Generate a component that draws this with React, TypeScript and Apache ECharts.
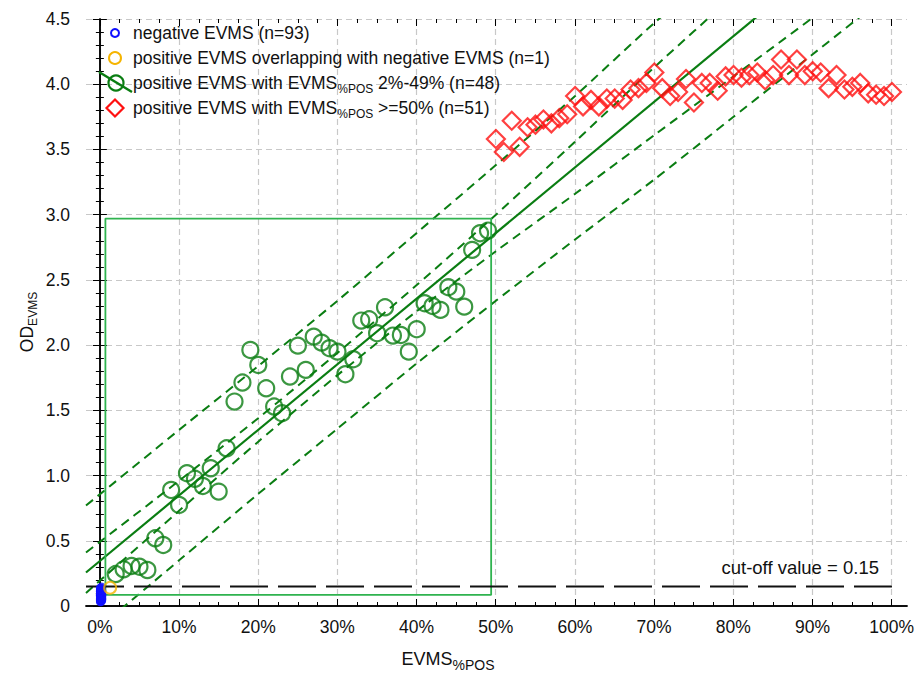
import React, { useEffect, useRef } from 'react';
import * as echarts from 'echarts';

// ---------- data ----------
const greenX = [2, 3, 4, 5, 6, 7, 8, 9, 10, 11, 12, 13, 14, 15, 16, 17, 18, 19, 20, 21, 22, 23, 24, 25, 26, 27, 28, 29, 30, 31, 32, 33, 34, 35, 36, 37, 38, 39, 40, 41, 42, 43, 44, 45, 46, 47, 48, 49];
const greenY = [0.245, 0.281, 0.307, 0.301, 0.276, 0.519, 0.468, 0.89, 0.775, 1.018, 0.975, 0.92, 1.056, 0.877, 1.209, 1.567, 1.713, 1.963, 1.848, 1.669, 1.529, 1.478, 1.759, 1.996, 1.81, 2.065, 2.019, 1.976, 1.95, 1.777, 1.892, 2.188, 2.198, 2.091, 2.29, 2.073, 2.078, 1.95, 2.122, 2.321, 2.3, 2.27, 2.444, 2.41, 2.295, 2.73, 2.858, 2.878];

const redX = [50, 51, 52, 53, 54, 55, 56, 57, 58, 59, 60, 61, 62, 63, 64, 65, 66, 67, 68, 69, 70, 71, 72, 73, 74, 75, 76, 77, 78, 79, 80, 81, 82, 83, 84, 85, 86, 87, 88, 89, 90, 91, 92, 93, 94, 95, 96, 97, 98, 99, 100];
const redY = [3.58, 3.48, 3.72, 3.52, 3.67, 3.69, 3.73, 3.70, 3.74, 3.77, 3.91, 3.83, 3.88, 3.83, 3.89, 3.89, 3.88, 3.96, 3.97, 4.01, 4.09, 3.97, 3.91, 3.94, 4.04, 3.86, 4.01, 4.01, 3.95, 4.06, 4.07, 4.05, 4.07, 4.09, 4.03, 4.07, 4.19, 4.07, 4.19, 4.07, 4.10, 4.09, 3.97, 4.07, 3.96, 3.98, 4.01, 3.93, 3.92, 3.91, 3.94];

const blueX = [
  0, 0.1, 0.2, 0, 0.1, 0.3, 0, 0.2, 0.1, 0,
  0.3, 0.2, 0, 0.1, 0.3, 0, 0.2, 0.1, 0, 0.2,
  0.1, 0, 0.2, 0.1, 0.2, 0, 0.3, 0.1, 0.2, 0,
  0.1, 0.3, 0.2, 0, 0.2, 0.1, 0.3, 0, 0.2, 0.1,
  0, 0.2, 0.3, 0.1, 0, 0.2, 0.15, 0.15, 0.15, 0.15,
  0.15, 0.15, 0.15, 0.15, 0.05, 0.05, 0.05, 0.05, 0.05, 0.05,
  0.05, 0.05, 0.25, 0.25, 0.25, 0.25, 0.25, 0.1, 0.1, 0.1,
  0.1, 0.1, 0.1, 0.1, 0.1, 0.1, 0.1, 0.1, 0.1, 0.2,
  0.2, 0.2, 0.2, 0.2, 0.2, 0.3, 0.3, 0.3, 0.3, 0.3,
  0.3, 0.05, 0.05,
];
const blueY = [
  0.03, 0.04, 0.05, 0.05, 0.06, 0.06, 0.07, 0.07, 0.08, 0.08,
  0.08, 0.09, 0.09, 0.10, 0.10, 0.11, 0.11, 0.12, 0.12, 0.13,
  0.14, 0.14, 0.15, 0.04, 0.03, 0.04, 0.05, 0.05, 0.06, 0.06,
  0.07, 0.07, 0.07, 0.08, 0.08, 0.09, 0.09, 0.09, 0.10, 0.10,
  0.11, 0.11, 0.12, 0.12, 0.13, 0.13, 0.05, 0.06, 0.07, 0.08,
  0.09, 0.10, 0.11, 0.12, 0.04, 0.05, 0.06, 0.07, 0.08, 0.09,
  0.10, 0.11, 0.06, 0.07, 0.08, 0.09, 0.10, 0.03, 0.04, 0.05,
  0.06, 0.07, 0.08, 0.09, 0.10, 0.11, 0.12, 0.13, 0.14, 0.05,
  0.06, 0.07, 0.08, 0.09, 0.10, 0.08, 0.09, 0.07, 0.06, 0.05,
  0.04, 0.10, 0.12,
];

const orangeX = [1.3];
const orangeY = [0.14];

// regression line and bands
const fitX = [-1.75, 100];
const fitY = [0.257, 5.375];
const bandX = [-1.75, 10, 20, 30, 40, 50, 60, 70, 80, 90, 100];
const upperPI = [0.77, 1.35, 1.84, 2.34, 2.86, 3.38, 3.91, 4.47, 4.99, 5.51, 6.05];
const upperCI = [0.41, 0.96, 1.44, 1.94, 2.46, 3.00, 3.56, 4.13, 4.68, 5.23, 5.79];
const lowerCI = [0.10, 0.73, 1.26, 1.77, 2.26, 2.72, 3.16, 3.61, 4.06, 4.51, 4.97];
const lowerPI = [-0.25, 0.35, 0.86, 1.36, 1.86, 2.34, 2.81, 3.27, 3.75, 4.23, 4.71];

// green box
const boxX = [0.7, 49.4, 49.4, 0.7, 0.7];
const boxY = [0.085, 0.085, 2.97, 2.97, 0.085];

// cut-off
const cutoffValue = 0.15;
const cutX = [-1.75, 100];

const legendLabels = [
  'negative EVMS (n=93)',
  'positive EVMS overlapping with negative EVMS (n=1)',
  'positive EVMS with EVMS{sub|%POS} 2%-49% (n=48)',
  'positive EVMS with EVMS{sub|%POS} >=50% (n=51)',
];

// ---------- layout / style ----------
const FONT = "'Liberation Sans', Arial, Helvetica, sans-serif";
const FS = 17.5;
const X_MIN = -1.75;
const X_MAX = 101.9;
const G_LEFT = 86;
const G_TOP = 19;
const G_W = 821;
const G_H = 587;
const PX = G_W / (X_MAX - X_MIN);

const GREEN = '#0a7d12';
const BOX = '#2fb34f';
const RED = '#ff1010';
const BLUE = '#1010ff';
const ORANGE = '#f5b400';

const zip = (xs: number[], ys: number[]) => xs.map((x, i) => [x, ys[i]]);

const subRich = (size: number, pad: number) => ({
  sub: { fontSize: size, fontFamily: FONT, fill: '#111', padding: [pad, 0, 0, 0] },
});

function buildOption(): any {
  const bandStyle = { color: GREEN, width: 2, type: [9, 6] as any };
  const lineBase = { type: 'line', xAxisIndex: 0, yAxisIndex: 0, showSymbol: false, symbol: 'none', silent: true, z: 3 };

  const legendRows = [33, 58, 83, 108];
  const graphics: any[] = [];
  legendRows.forEach((y, i) => {
    graphics.push({
      type: 'text', x: 133, y, z: 50,
      style: {
        text: legendLabels[i], fontSize: FS, fontFamily: FONT, fill: '#111',
        align: 'left', verticalAlign: 'middle', rich: subRich(12, 11),
      },
    });
  });
  graphics.push({ type: 'circle', z: 50, shape: { cx: 115, cy: 33, r: 4 }, style: { fill: 'none', stroke: BLUE, lineWidth: 2 } });
  graphics.push({ type: 'circle', z: 50, shape: { cx: 115, cy: 58, r: 6 }, style: { fill: 'none', stroke: ORANGE, lineWidth: 2 } });
  graphics.push({ type: 'line', z: 50, shape: { x1: 99, y1: 72, x2: 132, y2: 92 }, style: { stroke: GREEN, lineWidth: 2.5 } });
  graphics.push({ type: 'circle', z: 50, shape: { cx: 116, cy: 83, r: 7.5 }, style: { fill: 'none', stroke: GREEN, lineWidth: 2.2 } });
  graphics.push({ type: 'polygon', z: 50, shape: { points: [[115, 99.5], [123.5, 108], [115, 116.5], [106.5, 108]] }, style: { fill: 'none', stroke: RED, lineWidth: 2.2 } });

  graphics.push({
    type: 'text', x: 879, y: 567, z: 50,
    style: { text: 'cut-off value = ' + cutoffValue, fontSize: 18.5, fontFamily: FONT, fill: '#111', align: 'right', verticalAlign: 'middle' },
  });
  graphics.push({
    type: 'text', x: 448, y: 659, z: 50,
    style: { text: 'EVMS{sub|%POS}', fontSize: 18, fontFamily: FONT, fill: '#111', align: 'center', verticalAlign: 'middle', rich: subRich(14, 12) },
  });
  graphics.push({
    type: 'text', x: 27, y: 322, z: 50, rotation: Math.PI / 2,
    style: { text: 'OD{sub|EVMS}', fontSize: FS, fontFamily: FONT, fill: '#111', align: 'center', verticalAlign: 'middle', rich: subRich(12, 11) },
  });

  const axisLineBlack = { show: true, lineStyle: { color: '#000', width: 1.5 } };
  const gridLine = { show: true, lineStyle: { color: '#c8c8c8', width: 1.2, type: [6, 4] as any } };
  const tickStyle = { color: '#000', width: 1 };

  return {
    animation: false,
    backgroundColor: '#fff',
    textStyle: { fontFamily: FONT },
    grid: [
      { left: G_LEFT, top: G_TOP, width: G_W, height: G_H },
      { left: G_LEFT + (0 - X_MIN) * PX, top: G_TOP, width: 100 * PX, height: G_H },
    ],
    xAxis: [
      { type: 'value', gridIndex: 0, position: 'bottom', min: X_MIN, max: X_MAX, axisLine: axisLineBlack, axisTick: { show: false }, axisLabel: { show: false }, splitLine: { show: false } },
      { type: 'value', gridIndex: 0, position: 'top', min: X_MIN, max: X_MAX, axisLine: axisLineBlack, axisTick: { show: false }, axisLabel: { show: false }, splitLine: { show: false } },
      {
        type: 'value', gridIndex: 1, position: 'bottom', min: 0, max: 100, interval: 10,
        axisLine: { show: false },
        axisTick: { show: true, inside: true, length: 7, lineStyle: tickStyle },
        minorTick: { show: true, splitNumber: 4, length: 4, lineStyle: tickStyle },
        axisLabel: { show: true, formatter: '{value}%', fontSize: FS, fontFamily: FONT, color: '#111', margin: 12 },
        splitLine: gridLine,
      },
      {
        type: 'value', gridIndex: 1, position: 'top', min: 0, max: 100, interval: 10,
        axisLine: { show: false },
        axisTick: { show: true, inside: true, length: 7, lineStyle: tickStyle },
        minorTick: { show: true, splitNumber: 4, length: 4, lineStyle: tickStyle },
        axisLabel: { show: false },
        splitLine: { show: false },
      },
    ],
    yAxis: [
      {
        type: 'value', gridIndex: 0, position: 'left', min: 0, max: 4.5, interval: 0.5,
        axisLine: axisLineBlack,
        axisTick: { show: true, inside: true, length: 7, lineStyle: tickStyle },
        minorTick: { show: true, splitNumber: 5, length: 4, lineStyle: tickStyle },
        axisLabel: { show: true, fontSize: FS, fontFamily: FONT, color: '#111', margin: 16, formatter: (v: number) => (v === 0 ? '0' : v.toFixed(1)) },
        splitLine: gridLine,
      },
      {
        type: 'value', gridIndex: 0, position: 'right', min: 0, max: 4.5, interval: 0.5,
        axisLine: axisLineBlack,
        axisTick: { show: true, inside: true, length: 7, lineStyle: tickStyle },
        minorTick: { show: true, splitNumber: 5, length: 4, lineStyle: tickStyle },
        axisLabel: { show: false },
        splitLine: { show: false },
      },
      { type: 'value', gridIndex: 1, min: 0, max: 4.5, show: false },
    ],
    series: [
      { ...lineBase, name: 'upperPI', data: zip(bandX, upperPI), smooth: 0.2, lineStyle: bandStyle },
      { ...lineBase, name: 'upperCI', data: zip(bandX, upperCI), smooth: 0.2, lineStyle: bandStyle },
      { ...lineBase, name: 'lowerCI', data: zip(bandX, lowerCI), smooth: 0.2, lineStyle: bandStyle },
      { ...lineBase, name: 'lowerPI', data: zip(bandX, lowerPI), smooth: 0.2, lineStyle: bandStyle },
      { ...lineBase, name: 'fit', data: zip(fitX, fitY), lineStyle: { color: GREEN, width: 2.2 } },
      { ...lineBase, name: 'box', data: zip(boxX, boxY), lineStyle: { color: BOX, width: 1.8 } },
      { ...lineBase, name: 'cutoff', data: zip(cutX, cutX.map(() => cutoffValue)), lineStyle: { color: '#111', width: 2, type: [38, 10] as any } },
      {
        type: 'scatter', name: 'positive 2-49', xAxisIndex: 0, yAxisIndex: 0, z: 5,
        data: zip(greenX, greenY), symbol: 'circle', symbolSize: 16,
        itemStyle: { color: 'rgba(0,0,0,0)', borderColor: GREEN, borderWidth: 2.2 },
      },
      {
        type: 'scatter', name: 'positive >=50', xAxisIndex: 0, yAxisIndex: 0, z: 5,
        data: zip(redX, redY), symbol: 'diamond', symbolSize: 18,
        itemStyle: { color: 'rgba(0,0,0,0)', borderColor: RED, borderWidth: 2.2 },
      },
      {
        type: 'scatter', name: 'negative', xAxisIndex: 0, yAxisIndex: 0, z: 6,
        data: zip(blueX, blueY), symbol: 'circle', symbolSize: 6,
        itemStyle: { color: 'rgba(0,0,0,0)', borderColor: BLUE, borderWidth: 2 },
      },
      {
        type: 'scatter', name: 'overlap', xAxisIndex: 0, yAxisIndex: 0, z: 6,
        data: zip(orangeX, orangeY), symbol: 'circle', symbolSize: 12,
        itemStyle: { color: 'rgba(0,0,0,0)', borderColor: ORANGE, borderWidth: 2 },
      },
    ],
    graphic: graphics,
  };
}

export default function App() {
  const ref = useRef<HTMLDivElement>(null);
  useEffect(() => {
    if (!ref.current) return;
    const chart = echarts.init(ref.current, null, { renderer: 'svg' });
    chart.setOption(buildOption());
    return () => chart.dispose();
  }, []);
  return <div ref={ref} style={{ position: 'fixed', left: 0, top: 0, width: 917, height: 680, background: '#fff' }} />;
}
